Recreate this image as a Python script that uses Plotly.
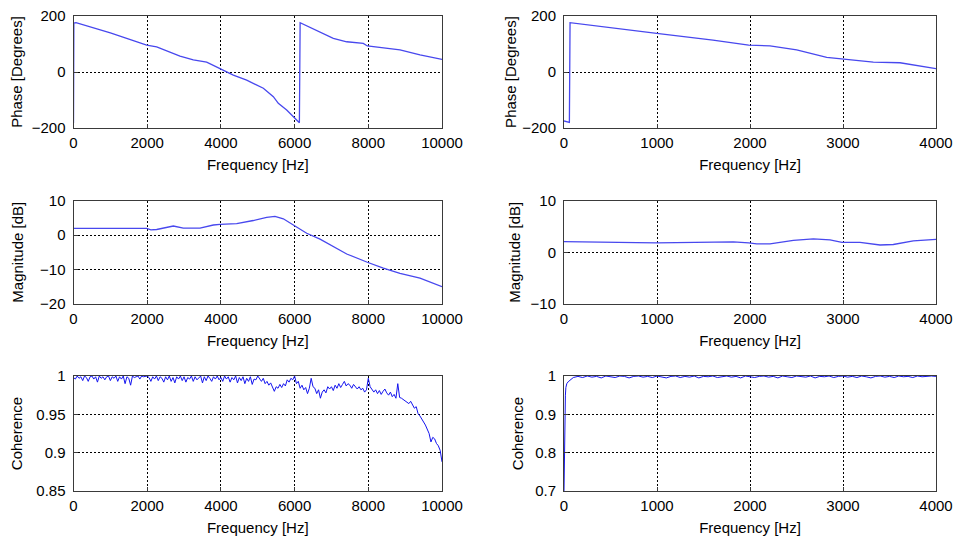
import plotly.graph_objects as go

# ---------------- data ----------------
# Left column (0-10000 Hz)
phase_l_f = [0, 10, 68, 1000, 1986, 2257, 2890, 3251, 3614, 3976, 4337, 4700, 5152, 5423, 5558,
             5785, 5966, 6130, 6150, 6690, 7050, 7414, 7865, 7974, 8407, 8860, 9403, 10000]
phase_l_v = [-182, 175, 176, 140, 96, 90, 57, 43, 35, 13, -11, -29, -58, -88, -112,
             -136, -160, -181, 176, 144, 120, 108, 102, 93, 85, 79, 61, 45]

mag_l_f = [0, 1000, 1986, 2100, 2257, 2710, 2980, 3433, 3795, 3976, 4428, 4880, 5242, 5468, 5694,
           5966, 6328, 6690, 7050, 7414, 7974, 8407, 8860, 9403, 10000]
mag_l_v = [1.9, 1.9, 1.9, 1.5, 1.6, 2.6, 2.0, 2.0, 2.9, 3.1, 3.3, 4.2, 5.1, 5.4, 4.7,
           2.9, 0.5, -1.2, -3.4, -5.5, -7.9, -9.6, -11.1, -12.5, -15.0]

coh_l_f = [i * 50 for i in range(201)]
coh_l_v = [
    0.998, 0.996, 1.0, 0.997, 0.999, 0.994, 1.0, 0.998, 0.993, 0.999, 1.0, 0.996, 0.999, 0.992, 1.0, 0.997, 0.999, 0.995, 0.999, 1.0,
    0.994, 0.999, 0.997, 1.0, 0.993, 0.999, 0.996, 1.0, 0.990, 0.999, 0.997, 0.988, 1.0, 0.998, 0.999, 1.0, 0.996, 1.0, 0.999, 1.0,
    1.0, 0.998, 0.993, 0.999, 0.996, 1.0, 0.994, 0.999, 0.997, 0.992, 0.999, 0.995, 1.0, 0.993, 0.998, 0.991, 0.999, 0.996, 1.0, 0.994,
    0.999, 0.992, 0.998, 0.996, 1.0, 0.993, 0.999, 0.995, 0.998, 1.0, 0.991, 0.999, 0.994, 1.0, 0.997, 0.993, 0.999, 0.996, 1.0, 0.995,
    0.998, 0.993, 1.0, 0.996, 0.999, 0.992, 0.998, 0.995, 1.0, 0.991, 0.998, 0.994, 0.999, 0.990, 0.997, 0.993, 0.999, 0.989, 0.996, 0.995,
    1.0, 0.996, 0.993, 0.997, 0.990, 0.993, 0.988, 0.991, 0.984, 0.980, 0.986, 0.984, 0.989, 0.985, 0.990, 0.987, 0.995, 0.992, 0.997, 0.995,
    1.0, 0.990, 0.993, 0.984, 0.988, 0.982, 0.985, 0.977, 0.984, 0.997, 0.986, 0.984, 0.977, 0.982, 0.971, 0.979, 0.982, 0.978, 0.986, 0.983,
    0.986, 0.981, 0.988, 0.984, 0.990, 0.985, 0.989, 0.993, 0.987, 0.990, 0.988, 0.984, 0.989, 0.986, 0.983, 0.986, 0.982, 0.984, 0.979, 0.982,
    0.997, 0.986, 0.983, 0.979, 0.982, 0.977, 0.981, 0.976, 0.980, 0.983, 0.978, 0.975, 0.979, 0.973, 0.976, 0.971, 0.990, 0.972, 0.971, 0.969,
    0.968, 0.966, 0.964, 0.967, 0.962, 0.958, 0.960, 0.951, 0.948, 0.943, 0.940, 0.936, 0.930, 0.925, 0.914, 0.920, 0.918, 0.912, 0.909, 0.903,
    0.888,
]

# Right column (0-4000 Hz)
phase_r_f = [0, 20, 50, 58, 65, 527, 997, 1602, 1986, 2215, 2502, 2825, 2989, 3326, 3613, 4000]
phase_r_v = [-175, -177, -180, -180, 176, 156, 138, 114, 96, 93, 79, 52, 46, 35, 33, 12]

mag_r_f = [0, 602, 781, 997, 1427, 1821, 1986, 2072, 2215, 2466, 2681, 2860, 2989, 3183, 3398, 3541, 3756, 4000]
mag_r_v = [2.05, 2.0, 1.85, 1.8, 1.85, 2.0, 1.8, 1.6, 1.6, 2.3, 2.6, 2.4, 1.9, 1.9, 1.4, 1.5, 2.2, 2.5]

coh_r_f = [0, 5, 10, 15, 20, 30, 45, 65, 80, 100] + [150 + i * 50 for i in range(78)]
coh_r_v = [0.70, 0.84, 0.90, 0.95, 0.97, 0.98, 0.985, 0.99, 0.993, 0.996] + [
    0.999, 0.996, 1.0, 0.997, 0.999, 0.995, 1.0, 0.998, 0.996, 1.0, 0.999, 0.995, 0.999, 1.0, 0.997, 0.999, 0.996, 1.0, 0.998, 0.995,
    0.999, 1.0, 0.996, 0.999, 0.997, 1.0, 0.995, 0.999, 0.998, 1.0, 0.996, 0.999, 1.0, 0.997, 0.999, 0.995, 1.0, 0.998, 0.996, 0.999,
    1.0, 0.997, 0.999, 0.995, 1.0, 0.998, 0.996, 1.0, 0.999, 0.997, 1.0, 0.995, 0.999, 0.998, 1.0, 0.996, 0.999, 1.0, 0.997, 0.999,
    0.996, 1.0, 0.998, 0.995, 0.999, 1.0, 0.997, 0.999, 0.996, 1.0, 0.998, 0.999, 0.996, 1.0, 0.998, 0.999, 1.0, 0.999,
]

x_title = "Frequency [Hz]"
y_titles = ["Phase [Degrees]", "Magnitude [dB]", "Coherence"]

# ---------------- figure ----------------
W, H = 954, 540
fig = go.Figure()

phase_col = "#4848ee"
coh_col = "#1414ee"

traces = [
    (phase_l_f, phase_l_v, "x", "y", phase_col, 1.3),
    (mag_l_f, mag_l_v, "x3", "y3", phase_col, 1.3),
    (coh_l_f, coh_l_v, "x5", "y5", coh_col, 1.0),
    (phase_r_f, phase_r_v, "x2", "y2", phase_col, 1.3),
    (mag_r_f, mag_r_v, "x4", "y4", phase_col, 1.3),
    (coh_r_f, coh_r_v, "x6", "y6", coh_col, 1.0),
]
for xs, ys, xa, ya, col, w in traces:
    fig.add_trace(go.Scatter(x=xs, y=ys, xaxis=xa, yaxis=ya, mode="lines",
                             line=dict(color=col, width=w), showlegend=False,
                             cliponaxis=True))

font = dict(family="Liberation Sans, Arial, sans-serif", size=15, color="black")

def px_x(a, b):
    return [a / W, b / W]

def px_y(top, bottom):
    return [1 - bottom / H, 1 - top / H]

col_dom = [px_x(73.5, 442), px_x(564, 936)]
row_dom = [px_y(16, 128), px_y(200.5, 304), px_y(376, 491)]

yranges = [([-200, 200], 200), ([-20, 10], 10), ([0.85, 1], 0.05),
           ([-200, 200], 200), ([-10, 10], 10), ([0.7, 1], 0.1)]
xranges = [([0, 10000], 2000), ([0, 4000], 1000)]
ytitle_standoff = [5, 12, 10, 1, 6, 7]

common = dict(showline=True, mirror=True, linecolor="#3a3a3a", linewidth=1,
              ticks="inside", ticklen=4, tickcolor="#3a3a3a",
              showgrid=True, gridcolor="black", gridwidth=1, griddash="2px,2px",
              zeroline=False, tickfont=font, fixedrange=True, automargin=False)

layout = {}
for r in range(3):
    for c in range(2):
        n = r * 2 + c + 1
        sx = "" if n == 1 else str(n)
        xr, xd = xranges[c]
        yr, yd = yranges[c * 3 + r]
        layout["xaxis" + sx] = dict(common, domain=col_dom[c], anchor="y" + sx,
                                    range=xr, dtick=xd, tick0=0, tickformat="d",
                                    ticklabelstandoff=1,
                                    title=dict(text=x_title, font=font, standoff=9))
        layout["yaxis" + sx] = dict(common, domain=row_dom[r], anchor="x" + sx,
                                    range=yr, dtick=yd, tick0=yr[0],
                                    ticklabelstandoff=4,
                                    title=dict(text=y_titles[r], font=font,
                                               standoff=ytitle_standoff[c * 3 + r]))

fig.update_layout(width=W, height=H, margin=dict(l=0, r=0, t=0, b=0),
                  paper_bgcolor="white", plot_bgcolor="white", font=font,
                  hovermode=False, **layout)

# remove the default 8px page margin so the figure sits at the window corner
fig.write_html("out.html", config={"displayModeBar": False, "staticPlot": True},
               post_script="document.body.style.margin='0';document.body.style.overflow='hidden';")
